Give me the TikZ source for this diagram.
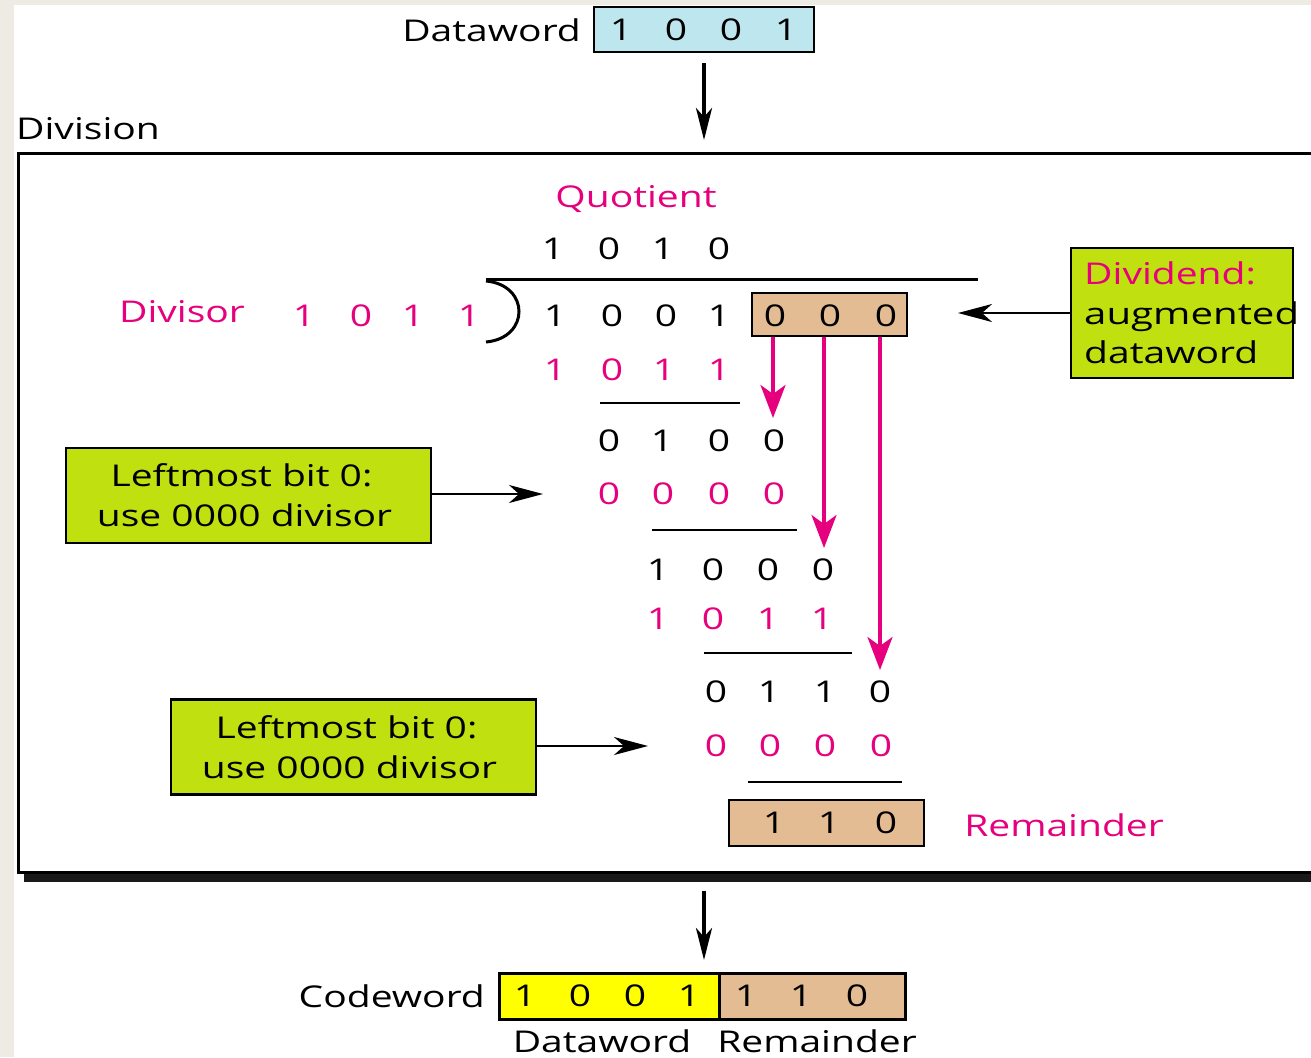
\documentclass[tikz,border=0pt]{standalone}
\usepackage{fontspec}
\setmainfont[FakeStretch=1.3]{Open Sans}
\usetikzlibrary{arrows.meta}
\definecolor{mag}{RGB}{230,0,126}
\definecolor{lgreen}{RGB}{192,224,16}
\definecolor{tan}{RGB}{228,188,148}
\definecolor{lblue}{RGB}{190,230,238}
\definecolor{beige}{RGB}{238,235,228}
\definecolor{yel}{RGB}{255,255,0}
\newcommand\bitrow[4]{%
  \foreach \xx/\dd [count=\ii] in {#4} {\node[text=#3] (#1\ii) at (\xx,#2) {\dd};}}
\tikzset{
  txt/.style={inner sep=0pt, font=\fontsize{30}{40}\selectfont},
  box/.style={draw=black, line width=2.5pt, inner sep=0pt},
  gbox/.style={box, fill=lgreen, align=center, minimum width=365, minimum height=95},
  bigarrow/.style={line width=4pt, -{Stealth[length=32pt,width=16pt,inset=9pt]}},
  smallarrow/.style={line width=2pt, -{Stealth[length=34pt,width=18pt,inset=10pt]}},
  magarrow/.style={draw=mag, line width=3.5pt, -{Stealth[length=33pt,width=25pt,inset=9pt]}},
  subline/.style={line width=2pt},
}
\begin{document}
\begin{tikzpicture}[x=1pt,y=-1pt, every node/.style={txt}]
\useasboundingbox (0,0) rectangle (1311,1057);
\clip (0,0) rectangle (1311,1057);
\fill[beige] (0,0) rectangle (1311,1057);
\fill[white] (14,5) rectangle (1311,1057);

% top dataword
\node[box, fill=lblue, minimum width=220, minimum height=45] (dwbox) at (704,29.5) {};
\bitrow{dw}{30}{black}{621/1,676/0,731/0,786/1}
\node[anchor=east] (dwlabel) at (581,30) {Dataword};

% division frame
\node[anchor=west] (divlabel) at (16,129) {Division};
\fill[black!90] (24,160) rectangle (1340,882);
\node[draw=black, line width=2.5pt, fill=white, anchor=north west, minimum width=1323, minimum height=719] (frame) at (17,152) {};

\draw[bigarrow] ([yshift=-10pt]dwbox.south) -- ([yshift=12pt]frame.north -| dwbox.south);

% quotient
\node[text=mag] (quot) at (636,199) {Quotient};
\bitrow{q}{249}{black}{553/1,609/0,663/1,719/0}
\draw[line width=3pt] (486,279) -- (978,279);
\draw[line width=3pt] (486,281) .. controls (530,285) and (530,338) .. (486,342);

% divisor
\node[text=mag] (divisor) at (182,312) {Divisor};
\bitrow{dv}{316}{mag}{304/1,361/0,413/1,469/1}

% dividend
\bitrow{dd}{316}{black}{555/1,612/0,666/0,719/1}
\node[box, fill=tan, minimum width=155, minimum height=43] (aug) at (829.5,314.5) {};
\bitrow{az}{316}{black}{775/0,830/0,886/0}

% steps
\bitrow{ra}{370}{mag}{555/1,612/0,664/1,719/1}
\draw[subline] (600,403) -- (740,403);
\bitrow{rb}{441}{black}{609/0,662/1,719/0,774/0}
\bitrow{rc}{494}{mag}{609/0,663/0,719/0,774/0}
\draw[subline] (652,530) -- (797,530);
\bitrow{rd}{570}{black}{658/1,713/0,768/0,823/0}
\bitrow{re}{619}{mag}{658/1,713/0,768/1,822/1}
\draw[subline] (704,653) -- (852,653);
\bitrow{rf}{692}{black}{716/0,769/1,825/1,880/0}
\bitrow{rg}{746}{mag}{716/0,770/0,825/0,881/0}
\draw[subline] (748,782) -- (902,782);

% remainder
\node[box, fill=tan, minimum width=195, minimum height=46] (rem) at (826.5,823) {};
\bitrow{rm}{823}{black}{774/1,829/1,886/0}
\node[text=mag] (remlabel) at (1064,825) {Remainder};

% magenta arrows
\coordinate (t1) at (773,418);
\coordinate (t2) at (824,548);
\coordinate (t3) at (880,670);
\draw[magarrow] (aug.south -| t1) -- (t1);
\draw[magarrow] (aug.south -| t2) -- (t2);
\draw[magarrow] (aug.south -| t3) -- (t3);

% dividend callout
\node[box, fill=lgreen, minimum width=222, minimum height=130] (dbox) at (1182,313) {};
\node[anchor=west, align=left, font=\fontsize{30}{39.5}\selectfont] (dtext) at (1084,313) {\textcolor{mag}{Dividend:}\\\scalebox{1.03}[1]{augmented}\\dataword};
\coordinate (dtip) at (958,313);
\draw[smallarrow] (dbox.west) -- (dtip);

% green callouts
\node[gbox] (g1) at (248.5,495.5) {Leftmost bit 0:\hspace*{14pt}\\use 0000 divisor\hspace*{8pt}};
\coordinate (g1tip) at (543,494);
\draw[smallarrow] (g1.east |- g1tip) -- (g1tip);
\node[gbox] (g2) at (353.5,747) {Leftmost bit 0:\hspace*{14pt}\\use 0000 divisor\hspace*{8pt}};
\coordinate (g2tip) at (648,746);
\draw[smallarrow] (g2.east |- g2tip) -- (g2tip);

% codeword
\node[box, fill=yel, minimum width=220, minimum height=46, anchor=north west] (cw1) at (498,972) {};
\node[box, fill=tan, minimum width=186, minimum height=46, anchor=north west] (cw2) at (718,972) {};
\bitrow{cd}{996}{black}{525/1,580/0,635/0,689/1}
\bitrow{cr}{996}{black}{746/1,801/1,857/0}
\node[anchor=east] (cwlabel) at (485,996) {Codeword};
\node (cwdl) at (602,1041) {Dataword};
\node (cwrl) at (817,1041) {Remainder};
\coordinate (bt) at (704,960);
\draw[bigarrow] ([yshift=-17pt]frame.south -| bt) -- (bt);
\end{tikzpicture}
\end{document}
